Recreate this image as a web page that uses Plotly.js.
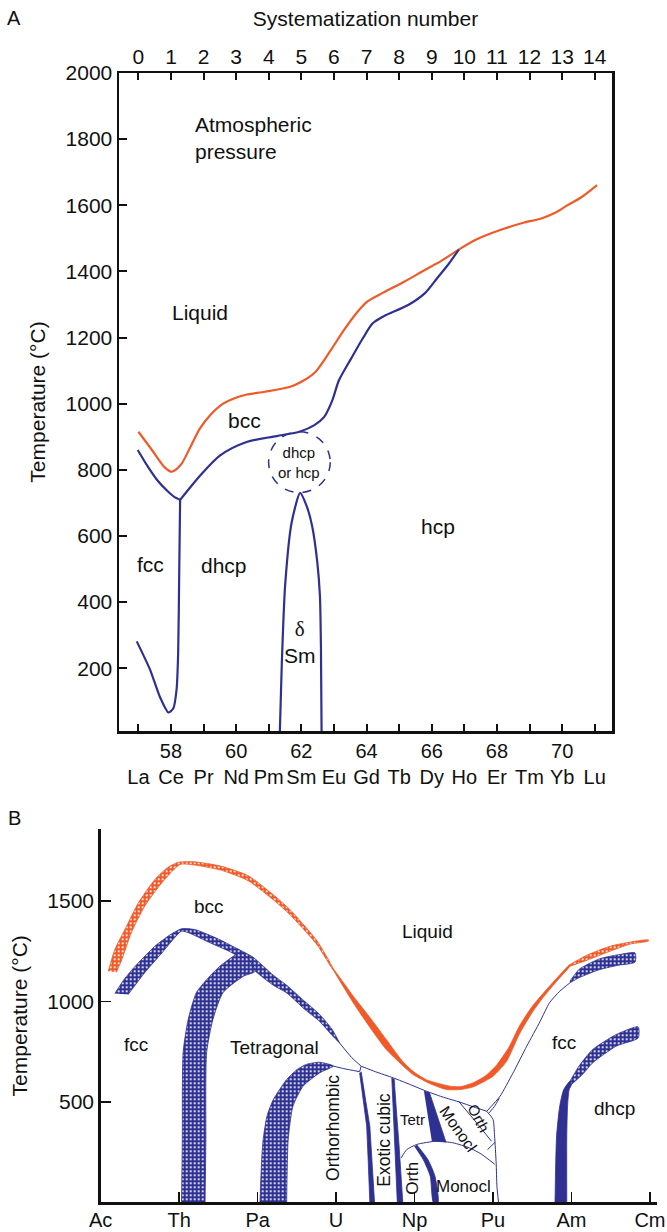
<!DOCTYPE html>
<html>
<head>
<meta charset="utf-8">
<script src="https://cdn.plot.ly/plotly-3.0.1.min.js"></script>
<style>html,body{margin:0;padding:0;background:#fff;}#chart{width:667px;height:1232px;}</style>
</head>
<body>
<div id="chart"></div>
<script>
// ---------------- Panel A data (lanthanides) ----------------
const atomicNumbers = [57,58,59,60,61,62,63,64,65,66,67,68,69,70,71];
const elementsA = ['La','Ce','Pr','Nd','Pm','Sm','Eu','Gd','Tb','Dy','Ho','Er','Tm','Yb','Lu'];
const systematization = [0,1,2,3,4,5,6,7,8,9,10,11,12,13,14];
const tempTicksA = [200,400,600,800,1000,1200,1400,1600,1800,2000];

const liquidusZ = [57,57.4,57.8,58.02,58.3,58.6,58.89,59.2,59.6,59.91,60.3,60.89,61.66,62.0,62.43,62.87,63.31,63.7,64.03,64.5,65.18,65.8,66.28,66.83,67.38,68.1,68.81,69.36,69.8,70.13,70.6,71.07];
const liquidusT = [915,862,808,794,815,870,925,965,1000,1015,1027,1036,1051,1066,1096,1157,1223,1275,1309,1335,1370,1405,1431,1466,1497,1525,1547,1560,1578,1598,1625,1661];

const fccBccZ = [56.98,57.3,57.6,57.9,58.1,58.28];
const fccBccT = [860,808,766,735,718,709];

const bccLowZ = [58.28,58.6,58.89,59.5,60.32,61.24,61.96,62.4,62.7,62.95,63.15,63.53,63.9,64.19,64.52,65.29,65.8,66.17,66.5,66.83];
const bccLowT = [709,748,782,843,884,902,916,935,960,1010,1070,1137,1200,1243,1264,1299,1335,1380,1420,1466];

const fccDhcpZ = [56.95,57.36,57.66,57.92,58.07,58.17,58.22,58.25,58.28];
const fccDhcpT = [281,195,113,66,78,134,245,468,709];

const smDeltaZ = [61.34,61.4,61.5,61.7,61.96,62.16,62.33,62.49,62.57,62.6,62.62];
const smDeltaT = [10,215,448,640,730,691,630,519,417,265,10];

const smCircleZ = [60.995,62.885];
const smCircleT = [731,915];

const labelAText = ['Atmospheric<br>pressure','Liquid','bcc','dhcp<br>or hcp','fcc','dhcp','<span style="font-family:Liberation Serif">δ</span><br>Sm','hcp'];
const labelAX = [58.68,58.89,60.24,61.94,57.38,59.63,61.96,66.19];
const labelAY = [1803,1277,948,823,514,511,280,629];
const labelASize = [21,21,21,15,21,21,21,21];

// ---------------- Panel B data (actinides) ----------------
const elementsB = ['Ac','Th','Pa','U','Np','Pu','Am','Cm'];
const elementPosB = [0,1,2,3,4,5,6,7];
const tempTicksB = [500,1000,1500];

// orange liquidus bands
const liqLeftTopX = [0.097,0.18,0.33,0.48,0.69,0.85,0.99,1.2,1.54,1.88,2.2,2.41,2.75,2.96];
const liqLeftTopY = [1150,1258,1374,1490,1606,1665,1692,1694,1672,1625,1530,1457,1305,1165];
const liqLeftBotX = [0.20,0.27,0.39,0.56,0.78,1.01,1.2,1.54,1.88,2.2,2.41,2.75,2.96];
const liqLeftBotY = [1145,1208,1341,1473,1590,1681,1678,1652,1600,1505,1432,1285,1158];

const liqMidTopX = [2.96,3.1,3.22,3.45,3.64,3.85,3.98,4.15,4.28,4.45,4.58,4.75,4.9,5.05,5.2,5.34,5.5,5.64,5.8,5.98];
const liqMidTopY = [1165,1090,1025,910,810,700,652,610,594,578,575,595,628,685,770,880,975,1040,1110,1183];
const liqMidBotX = [2.96,3.22,3.45,3.64,3.85,3.98,4.2,4.41,4.58,4.75,5.0,5.17,5.34,5.5,5.64,5.8,5.98];
const liqMidBotY = [1158,992,860,760,680,636,590,561,561,575,627,700,840,945,1020,1095,1175];

const liqRightTopX = [5.98,6.2,6.49,6.75,6.98];
const liqRightTopY = [1183,1230,1274,1295,1306];
const liqRightBotX = [5.98,6.2,6.49,6.75,6.98];
const liqRightBotY = [1175,1205,1249,1285,1300];

// blue hatched bands
const bccTopX = [0.18,0.3,0.44,0.69,0.88,1.03,1.2,1.5,1.7,1.94,2.2,2.37,2.6,2.79,2.95,3.05];
const bccTopY = [1039,1110,1175,1274,1330,1361,1357,1310,1270,1220,1130,1080,1000,935,860,790];
const bccBotX = [0.35,0.56,0.78,1.03,1.12,1.4,1.63,1.85,1.97,2.2,2.37,2.6,2.79,2.95,3.05];
const bccBotY = [1034,1142,1241,1349,1341,1290,1250,1200,1150,1080,1042,960,900,830,790];

const thArchOutX = [1.03,1.04,1.05,1.115,1.22,1.39,1.52,1.69,1.8];
const thArchOutY = [0,300,745,910,1044,1125,1175,1224,1245];
const thArchInX = [1.33,1.34,1.35,1.43,1.56,1.82,1.97];
const thArchInY = [0,300,745,910,1044,1125,1150];

const paArchOutX = [2.03,2.05,2.07,2.12,2.2,2.37,2.5,2.62,2.79,2.96];
const paArchOutY = [0,200,312,430,511,611,660,686,697,680];
const paArchInX = [2.37,2.39,2.45,2.58,2.79,2.96];
const paArchInY = [0,312,478,578,644,676];

const amTopBandTopX = [5.98,6.1,6.36,6.6,6.81];
const amTopBandTopY = [1100,1160,1212,1232,1241];
const amTopBandBotX = [5.98,6.1,6.36,6.6,6.81];
const amTopBandBotY = [1092,1118,1158,1180,1195];

const amLowBandTopX = [5.98,6.1,6.27,6.57,6.85];
const amLowBandTopY = [602,680,760,835,873];
const amLowBandBotX = [6.0,6.15,6.27,6.57,6.85];
const amLowBandBotY = [586,640,694,777,818];

// solid blue boundaries
const amSolidLeftX = [5.79,5.81,5.85,5.9,5.98];
const amSolidLeftY = [0,329,478,560,602];
const amSolidRightX = [5.94,5.94,5.95,5.97,6.0];
const amSolidRightY = [0,329,478,560,586];

const exo1LeftX = [3.30,3.35,3.39,3.41,3.43];
const exo1LeftY = [644,500,379,200,0];
const exo1RightX = [3.32,3.38,3.43,3.46,3.49];
const exo1RightY = [650,500,379,200,0];

const exo2LeftX = [3.71,3.73,3.75,3.77,3.78];
const exo2LeftY = [619,450,296,150,0];
const exo2RightX = [3.74,3.77,3.80,3.82,3.85];
const exo2RightY = [615,450,296,150,0];

const wedgeX = [4.12,4.19,4.40,4.22];
const wedgeY = [553,546,300,305];

const npCurveLeftX = [4.0,4.11,4.2,4.24];
const npCurveLeftY = [279,213,130,0];
const npCurveRightX = [4.03,4.17,4.26,4.30];
const npCurveRightY = [285,213,130,0];

// thin blue lines
const thinLines = [
  {x:[3.05,3.2,3.32], y:[790,720,677]},
  {x:[2.96,3.1,3.3], y:[678,665,650]},
  {x:[3.3,3.32], y:[650,677]},
  {x:[3.32,3.5,3.73,3.95,4.15,4.35,4.58,4.75,4.92], y:[677,650,619,585,553,525,498,475,453]},
  {x:[4.92,5.09,5.25,5.43,5.6,5.72,5.85,5.98], y:[453,528,640,777,900,993,1050,1092]},
  {x:[4.95,5.02,5.08], y:[445,478,518]},
  {x:[3.83,3.9,4.03,4.28,4.49,4.70,4.85,5.02], y:[221,262,288,304,296,271,240,190]},
  {x:[4.56,4.79,4.98], y:[503,396,304]},
  {x:[4.92,5.0,5.02,5.04,5.05,5.07], y:[453,412,329,197,80,0]},
  {x:[4.93,5.03], y:[262,300]}
];

const labelBText = ['bcc','Liquid','fcc','Tetragonal','Orthorhombic','Exotic cubic','Tetr','Monocl','Orth','Orth','Monocl','fcc','dhcp'];
const labelBX = [1.38,4.16,0.45,2.22,2.96,3.60,3.98,4.56,4.81,3.98,4.62,5.91,6.55];
const labelBY = [1470,1349,785,772,370,312,412,362,420,122,80,793,465];
const labelBSize = [19,19,19,19,17.5,17.5,15,16,15,17,17,19,19];
const labelBAngle = [0,0,0,0,-90,-90,0,55,62,-90,0,0,0];

// ---------------- styling ----------------
const ORANGE = '#ef5a28';
const BLUE = '#2e3192';
const FONT = 'Liberation Sans, Arial, Helvetica, sans-serif';

function poly(tx, ty, bx, by) {
  return {x: tx.concat(bx.slice().reverse()), y: ty.concat(by.slice().reverse())};
}

const traces = [];
// Panel A
traces.push({x: liquidusZ, y: liquidusT, mode:'lines', line:{color:ORANGE, width:2.2, shape:'spline', smoothing:0.8}, xaxis:'x', yaxis:'y', hoverinfo:'skip'});
traces.push({x: fccBccZ, y: fccBccT, mode:'lines', line:{color:BLUE, width:2.2, shape:'spline', smoothing:0.6}, xaxis:'x', yaxis:'y', hoverinfo:'skip'});
traces.push({x: bccLowZ, y: bccLowT, mode:'lines', line:{color:BLUE, width:2.2, shape:'spline', smoothing:0.8}, xaxis:'x', yaxis:'y', hoverinfo:'skip'});
traces.push({x: fccDhcpZ, y: fccDhcpT, mode:'lines', line:{color:BLUE, width:2.2, shape:'spline', smoothing:0.6}, xaxis:'x', yaxis:'y', hoverinfo:'skip'});
traces.push({x: smDeltaZ, y: smDeltaT, mode:'lines', line:{color:BLUE, width:2.2, shape:'spline', smoothing:0.6}, xaxis:'x', yaxis:'y', hoverinfo:'skip'});
// invisible trace to carry the top axis
traces.push({x: systematization, y: systematization.map(()=>null), mode:'lines', xaxis:'x2', yaxis:'y', hoverinfo:'skip', showlegend:false});

// Panel B helpers
function hatched(p, color) {
  return {x:p.x, y:p.y, mode:'lines', fill:'toself', xaxis:'x3', yaxis:'y3', hoverinfo:'skip',
    line:{color:color, width:0.8, shape:'spline', smoothing:0.6},
    fillcolor: color,
    fillpattern:{shape:'.', bgcolor:color, fgcolor:'#ffffff', size:4, solidity:0.22}};
}
function solid(p, color, shape) {
  return {x:p.x, y:p.y, mode:'lines', fill:'toself', xaxis:'x3', yaxis:'y3', hoverinfo:'skip',
    line:{color:color, width:0.8, shape:shape||'spline', smoothing:0.6}, fillcolor: color};
}
traces.push(hatched(poly(liqLeftTopX, liqLeftTopY, liqLeftBotX, liqLeftBotY), ORANGE));
traces.push(solid(poly(liqMidTopX, liqMidTopY, liqMidBotX, liqMidBotY), ORANGE));
traces.push(hatched(poly(liqRightTopX, liqRightTopY, liqRightBotX, liqRightBotY), ORANGE));
traces.push(hatched(poly(bccTopX, bccTopY, bccBotX, bccBotY), BLUE));
traces.push(hatched(poly(thArchOutX, thArchOutY, thArchInX, thArchInY), BLUE));
traces.push(hatched(poly(paArchOutX, paArchOutY, paArchInX, paArchInY), BLUE));
traces.push(hatched(poly(amTopBandTopX, amTopBandTopY, amTopBandBotX, amTopBandBotY), BLUE));
traces.push(hatched(poly(amLowBandTopX, amLowBandTopY, amLowBandBotX, amLowBandBotY), BLUE));
traces.push(solid(poly(amSolidLeftX, amSolidLeftY, amSolidRightX, amSolidRightY), BLUE));
traces.push(solid(poly(exo1LeftX, exo1LeftY, exo1RightX, exo1RightY), BLUE, 'linear'));
traces.push(solid(poly(exo2LeftX, exo2LeftY, exo2RightX, exo2RightY), BLUE, 'linear'));
traces.push(solid({x: wedgeX, y: wedgeY}, BLUE, 'linear'));
traces.push(solid(poly(npCurveLeftX, npCurveLeftY, npCurveRightX, npCurveRightY), BLUE, 'spline'));
thinLines.forEach(l => traces.push({x:l.x, y:l.y, mode:'lines', xaxis:'x3', yaxis:'y3', hoverinfo:'skip',
  line:{color:BLUE, width:1, shape:'spline', smoothing:0.6}}));

// annotations
const annotations = [];
labelAText.forEach((t,i) => annotations.push({text:t, x:labelAX[i], y:labelAY[i], xref:'x', yref:'y', showarrow:false,
  font:{family:FONT, size:labelASize[i], color:'#111'}, xanchor: i===0?'left':'center', align: i===0?'left':'center'}));
labelBText.forEach((t,i) => annotations.push({text:t, x:labelBX[i], y:labelBY[i], xref:'x3', yref:'y3', showarrow:false,
  font:{family:FONT, size:labelBSize[i], color:'#111'}, textangle:labelBAngle[i]}));
annotations.push({text:'A', x:14/667, y:1-18/1232, xref:'paper', yref:'paper', showarrow:false, xanchor:'center', yanchor:'middle', font:{family:FONT, size:20, color:'#111'}});
annotations.push({text:'B', x:14/667, y:1-818/1232, xref:'paper', yref:'paper', showarrow:false, xanchor:'center', yanchor:'middle', font:{family:FONT, size:20, color:'#111'}});

const tickFont = {family:FONT, size:21, color:'#111'};
const layout = {
  width:667, height:1232, margin:{l:0,r:0,t:0,b:0}, showlegend:false,
  paper_bgcolor:'#fff', plot_bgcolor:'rgba(0,0,0,0)',
  font:{family:FONT, color:'#111'},
  xaxis:{domain:[119/667, 612/667], anchor:'y', range:[56.405, 71.53], showgrid:false, zeroline:false,
    tickvals: atomicNumbers, tickangle:0,
    ticktext: atomicNumbers.map((z,i) => (z%2===0 ? String(z) : '\u00a0') + '<br>' + elementsA[i]),
    ticks:'inside', ticklen:7, tickwidth:2, tickcolor:'#111', tickfont:{family:FONT, size:20, color:'#111'},
    showline:true, linewidth:2.5, linecolor:'#111', mirror:true},
  xaxis2:{overlaying:'x', anchor:'y', side:'top', range:[56.405-57, 71.53-57], showgrid:false, zeroline:false,
    tickvals: systematization, tickangle:0, ticks:'inside', ticklen:7, tickwidth:2, tickcolor:'#111', tickfont:tickFont,
    ticklabelstandoff:4,
    showline:false, title:{text:'Systematization number', font:{family:FONT, size:21, color:'#111'}, standoff:12}},
  yaxis:{domain:[1-731/1232, 1-73/1232], anchor:'x', range:[10,2000], showgrid:false, zeroline:false,
    tickvals: tempTicksA, ticks:'inside', ticklen:8, tickwidth:2, tickcolor:'#111', tickfont:tickFont,
    showline:true, linewidth:2.5, linecolor:'#111', mirror:true,
    title:{text:'Temperature (°C)', font:{family:FONT, size:21, color:'#111'}, standoff:14}},
  xaxis3:{domain:[100.7/667, 657/667], anchor:'y3', range:[0,7.09], showgrid:false, zeroline:false,
    tickvals: elementPosB, ticktext: elementsB, tickangle:0, ticks:'inside', ticklen:10, tickwidth:1.5, tickcolor:'#111',
    tickfont:{family:FONT, size:20, color:'#111'}, ticklabelstandoff:-2,
    showline:true, linewidth:2.5, linecolor:'#111'},
  yaxis3:{domain:[1-1202.3/1232, 1-829.3/1232], anchor:'x3', range:[0,1856], showgrid:false, zeroline:false,
    tickvals: tempTicksB, ticks:'inside', ticklen:10, tickwidth:1.5, tickcolor:'#111', tickfont:tickFont,
    showline:true, linewidth:2.5, linecolor:'#111',
    title:{text:'Temperature (°C)', font:{family:FONT, size:21, color:'#111'}, standoff:14}},
  shapes:[{type:'circle', xref:'x', yref:'y', x0:smCircleZ[0], x1:smCircleZ[1], y0:smCircleT[0], y1:smCircleT[1],
    line:{color:BLUE, width:1.5, dash:'dash'}}],
  annotations: annotations
};

Plotly.newPlot('chart', traces, layout, {staticPlot:true, displayModeBar:false});
</script>
</body>
</html>
